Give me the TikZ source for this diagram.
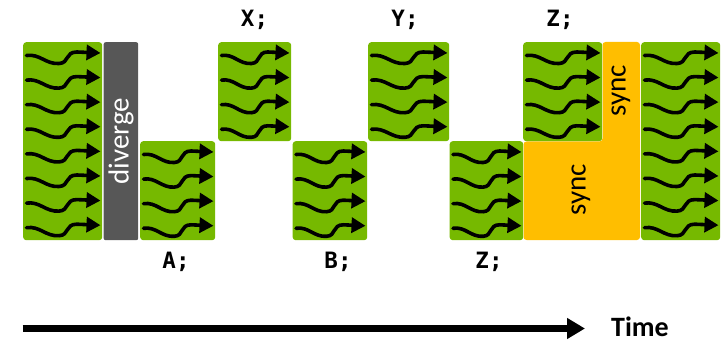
\documentclass[tikz,border=0pt]{standalone}
\usepackage{fontspec}
\setmainfont{Carlito}
\newfontfamily\monofont{DejaVu Sans Mono}
\usetikzlibrary{arrows.meta}
\definecolor{nvgreen}{RGB}{118,185,0}
\definecolor{syncorange}{RGB}{255,190,0}
\definecolor{divgray}{RGB}{87,87,87}
\tikzset{
  gblock/.style={fill=nvgreen, draw=none, rounded corners=3pt, inner sep=0pt, anchor=north west},
  wv/.style={line width=3.6pt, black, line cap=round, -{Triangle[length=14pt,width=15pt]}},
  codelbl/.style={font=\monofont\bfseries\fontsize{22.5}{27}\selectfont, anchor=base, inner sep=0pt},
  rottext/.style={font=\fontsize{29}{34}\selectfont, rotate=90, inner sep=0pt},
  timelbl/.style={font=\bfseries\fontsize{28}{34}\selectfont, anchor=base west, inner sep=0pt},
}
\newcommand\wavyrow[3]{%
  \pgfmathsetmacro\wa{#1+3.5}%
  \pgfmathsetmacro\wt{#2-1.5}%
  \pgfmathsetmacro\ww{\wt-\wa}%
  \draw[wv] (\wa,#3) .. controls ({\wa+0.18*\ww},{#3-2}) and ({\wa+0.26*\ww},{#3+9}) .. ({\wa+0.44*\ww},{#3+8})
     .. controls ({\wa+0.58*\ww},{#3+7.5}) and ({\wa+0.52*\ww},{#3-3.5}) .. ({\wa+0.68*\ww},{#3-3.5})
     -- (\wt,{#3-2.5});%
}
\begin{document}
\begin{tikzpicture}[x=1pt,y=-1pt]
\useasboundingbox (0,0) rectangle (723,342);
% sync L-shape
\fill[syncorange, rounded corners=3pt] (523.5,141.5) -- (602.5,141.5) -- (602.5,42) -- (640,42) -- (640,240) -- (523.5,240) -- cycle;
% diverge bar
\node[fill=divgray, rounded corners=2pt, inner sep=0pt, anchor=north west, minimum width=34.5pt, minimum height=198pt] (div) at (103.5,42) {};
\node[rottext, white] (divtxt) at (div.center) {diverge};
% green blocks
\foreach \nm/\l/\r/\t/\b/\n in {b1/23/102/42/240/8, bA/140/215/141/240/4, bX/218/291/42/141/4, bB/292.5/367/141/240/4, bY/368/449/42/141/4, bZa/449.5/523/141/240/4, bZb/523/602/42/141/4, b8/641/720/42/240/8}{
  \pgfmathsetmacro\bw{\r-\l}
  \pgfmathsetmacro\bh{\b-\t}
  \node[gblock, minimum width=\bw pt, minimum height=\bh pt] (\nm) at (\l,\t) {};
  \foreach \k in {1,...,\n}{
    \pgfmathsetmacro\s{\t+13.5+(\k-1)*24.6}
    \wavyrow{\l}{\r}{\s}
  }
}
% sync labels
\node[rottext] (sync1) at (621,91) {sync};
\node[rottext] (sync2) at (581,190) {sync};
% code labels
\node[codelbl] (lx) at (254.5,27) {X;};
\node[codelbl] (ly) at (405,27) {Y;};
\node[codelbl] (lz1) at (560,27) {Z;};
\node[codelbl] (la) at (176,268) {A;};
\node[codelbl] (lb) at (338,268) {B;};
\node[codelbl] (lz2) at (489,268) {Z;};
% time axis
\coordinate (tstart) at (22.5,328.5);
\coordinate (tend) at (585,328.5);
\draw[line width=7pt, -{Triangle[length=18pt,width=20pt]}] (tstart) -- (tend);
\node[timelbl] (time) at (611,336.7) {Time};
\end{tikzpicture}
\end{document}
